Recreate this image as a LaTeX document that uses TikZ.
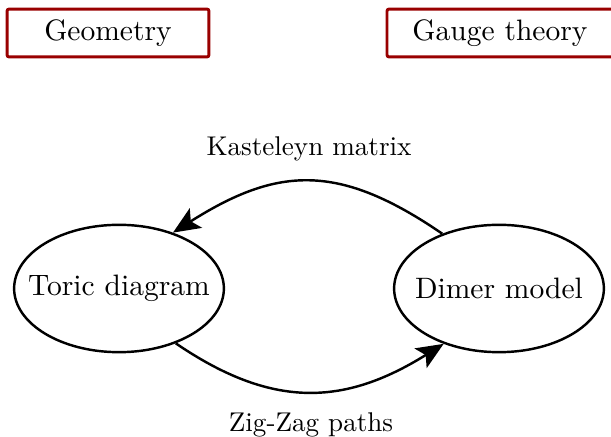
\documentclass[tikz,border=0pt]{standalone}
\usetikzlibrary{arrows.meta,shapes.geometric}
\definecolor{boxred}{RGB}{153,0,0}
\begin{document}
\begin{tikzpicture}[x=0.369pt,y=-0.369pt,
  big/.style={font=\fontsize{10.9}{13}\selectfont},
  label box/.style={big,draw=boxred,line width=1.1pt,rounded corners=0.8pt,
    minimum height=17.7pt,inner sep=0pt},
  blob/.style={big,draw,ellipse,line width=0.9pt,minimum width=77.4pt,
    minimum height=47pt,inner xsep=-8pt,inner ysep=0pt},
  link/.style={line width=0.9pt,-{Stealth[length=10pt,width=8.5pt,inset=2.2pt]}},
  caption/.style={inner sep=0pt}]
  \useasboundingbox (0,0) rectangle (611,437);
  % headings
  \node[label box,minimum width=74.5pt] (geo) at (108,33) {Geometry};
  \node[label box,minimum width=83.4pt] (gauge) at (500,33) {Gauge theory};
  % the two descriptions
  \node[blob] (toric) at (119,288.5) {Toric diagram};
  \node[blob] (dimer) at (499,288.5) {Dimer model};
  % the maps between them
  \draw[link] (dimer.136) .. controls (339,163) and (278,166) .. (toric.46);
  \draw[link] (toric.-44) .. controls (272,409) and (344,406) .. (dimer.-135);
  \node[caption] (kast) at (309,149) {Kasteleyn matrix};
  \node[caption] (zz) at (311,425) {Zig-Zag paths};
\end{tikzpicture}
\end{document}
